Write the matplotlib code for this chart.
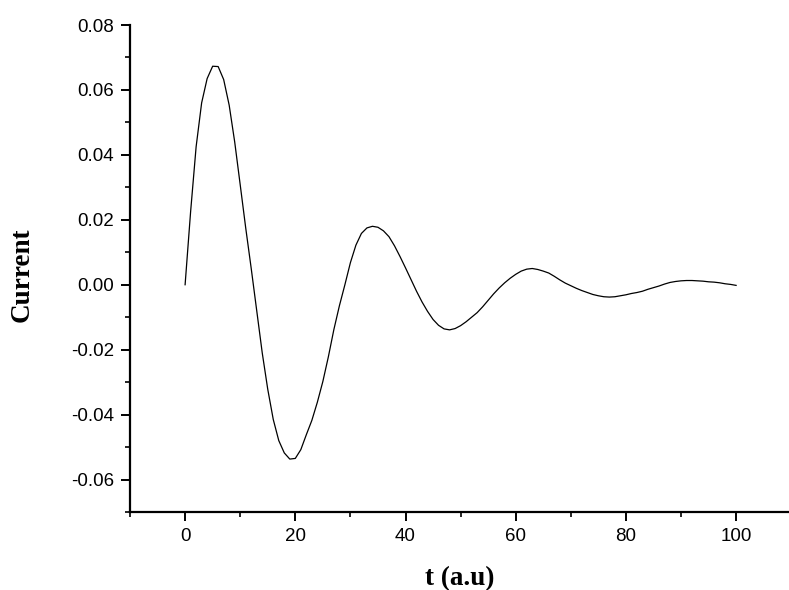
import matplotlib
matplotlib.use("Agg")
import matplotlib.pyplot as plt
from matplotlib.ticker import MultipleLocator, FormatStrFormatter

plt.rcParams['axes.unicode_minus'] = False

# Data read (estimated) from the reference picture
t_values = list(range(0, 101))
current = [
    0.0000, 0.0225, 0.0425, 0.0560, 0.0635, 0.0673, 0.0672, 0.0632, 0.0553, 0.0440,   # 0-9
    0.0308, 0.0175, 0.0050, -0.0080, -0.0210, -0.0322, -0.0415, -0.0480, -0.0518, -0.0537,  # 10-19
    -0.0535, -0.0508, -0.0462, -0.0418, -0.0362, -0.0298, -0.0222, -0.0138, -0.0065, 0.0000,  # 20-29
    0.0068, 0.0122, 0.0158, 0.0175, 0.0180, 0.0177, 0.0166, 0.0148, 0.0120, 0.0087,   # 30-39
    0.0052, 0.0016, -0.0020, -0.0053, -0.0082, -0.0107, -0.0125, -0.0136, -0.0139, -0.0135,  # 40-49
    -0.0126, -0.0114, -0.0100, -0.0086, -0.0068, -0.0048, -0.0028, -0.0010, 0.0006, 0.0020,  # 50-59
    0.0032, 0.0042, 0.0048, 0.0050, 0.0047, 0.0042, 0.0036, 0.0026, 0.0015, 0.0005,   # 60-69
    -0.0003, -0.0011, -0.0018, -0.0024, -0.0030, -0.0034, -0.0037, -0.0038, -0.0037, -0.0034,  # 70-79
    -0.0031, -0.0027, -0.0024, -0.0020, -0.0014, -0.0009, -0.0004, 0.0002, 0.0007, 0.0010,  # 80-89
    0.0012, 0.0013, 0.0013, 0.0012, 0.0011, 0.0009, 0.0008, 0.0006, 0.0003, 0.0001,   # 90-99
    -0.0002,  # 100
]

x_major = [0, 20, 40, 60, 80, 100]
y_major = [-0.06, -0.04, -0.02, 0.00, 0.02, 0.04, 0.06, 0.08]

W, H = 789, 590
fig = plt.figure(figsize=(W / 100, H / 100), dpi=100)
ax = fig.add_axes([130 / W, (H - 512) / H, (W - 130) / W, (512 - 25) / H])

ax.plot(t_values, current, color='black', lw=0.9)

ax.set_xlim(-10, 109.6)
ax.set_ylim(-0.07, 0.08)

ax.spines['top'].set_visible(False)
ax.spines['right'].set_visible(False)
for s in ('left', 'bottom'):
    ax.spines[s].set_linewidth(1.6)

ax.set_xticks(x_major)
ax.set_yticks(y_major)
ax.xaxis.set_minor_locator(MultipleLocator(10))
ax.yaxis.set_minor_locator(MultipleLocator(0.01))
ax.yaxis.set_major_formatter(FormatStrFormatter('%.2f'))
ax.tick_params(which='major', direction='out', length=6.5, width=1.4,
               labelsize=13.5, pad=5)
ax.tick_params(which='minor', direction='out', length=3.5, width=1.2)
for lab in ax.get_xticklabels() + ax.get_yticklabels():
    lab.set_fontfamily('Liberation Sans')

fig.text(460 / W, 1 - 579 / H, 't (a.u)', family='Liberation Serif',
         weight='bold', fontsize=19.5, ha='center', va='center')
fig.text(22 / W, 1 - 275 / H, 'Current', family='Liberation Serif',
         weight='bold', fontsize=19.5, ha='center', va='center', rotation=90)

fig.savefig('out.png', dpi=100)
